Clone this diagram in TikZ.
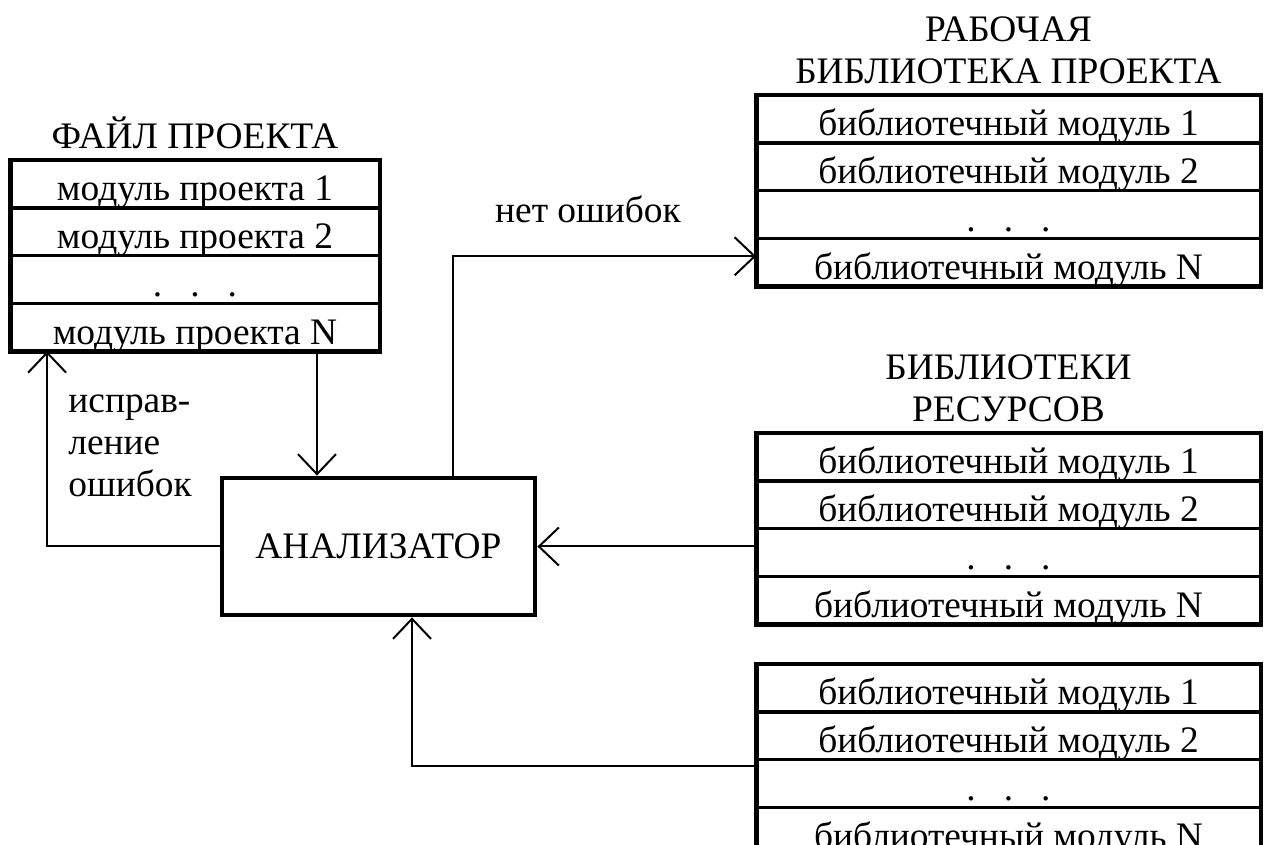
\documentclass[tikz,border=0pt]{standalone}
\usepackage{fontspec}
\setmainfont{Liberation Serif}
\usetikzlibrary{positioning,fit,arrows.meta}
\tikzset{
  txt/.style={font=\fontsize{18.7}{21}\selectfont},
  cell/.style={txt, draw, line width=0.9pt, inner sep=0pt, minimum height=23pt,
    text height=20pt, text depth=3pt},
  filecell/.style={cell, minimum width=184pt},
  libcell/.style={cell, minimum width=251.5pt},
  frame/.style={draw, line width=2.4pt, inner sep=0pt},
  title/.style={txt, align=center, inner sep=0pt},
  arr/.style={line width=1pt, -{Straight Barb[length=10pt,width=19pt,line width=1pt]}}
}
\newcommand{\dotsrow}{.\hspace{14pt}.\hspace{14pt}.}
\begin{document}
\begin{tikzpicture}[x=0.5pt,y=-0.5pt]
\clip (0,0) rectangle (1266,845);
% project file
\node[filecell, anchor=north] (f1) at (195,160) {модуль проекта 1};
\node[filecell, below=0pt of f1] (f2) {модуль проекта 2};
\node[filecell, below=0pt of f2] (f3) {\dotsrow};
\node[filecell, below=0pt of f3] (f4) {модуль проекта N};
\node[frame, fit=(f1)(f4)] (file) {};
\node[title, above=4pt of file] {ФАЙЛ ПРОЕКТА};
% working library
\node[libcell, anchor=north] (w1) at (1008.5,95) {библиотечный модуль 1};
\node[libcell, below=0pt of w1] (w2) {библиотечный модуль 2};
\node[libcell, below=0pt of w2] (w3) {\dotsrow};
\node[libcell, below=0pt of w3] (w4) {библиотечный модуль N};
\node[frame, fit=(w1)(w4)] (work) {};
\node[title, above=4pt of work] {РАБОЧАЯ\\БИБЛИОТЕКА ПРОЕКТА};
% resource libraries
\node[libcell, anchor=north] (r1) at (1008.5,433) {библиотечный модуль 1};
\node[libcell, below=0pt of r1] (r2) {библиотечный модуль 2};
\node[libcell, below=0pt of r2] (r3) {\dotsrow};
\node[libcell, below=0pt of r3] (r4) {библиотечный модуль N};
\node[frame, fit=(r1)(r4)] (res) {};
\node[title, above=4pt of res] {БИБЛИОТЕКИ\\РЕСУРСОВ};
% third library
\node[libcell, anchor=north] (b1) at (1008.5,664) {библиотечный модуль 1};
\node[libcell, below=0pt of b1] (b2) {библиотечный модуль 2};
\node[libcell, below=0pt of b2] (b3) {\dotsrow};
\node[libcell, below=0pt of b3] (b4) {библиотечный модуль N};
\node[frame, fit=(b1)(b4)] (lib) {};
% analyzer
\node[frame, txt, minimum width=156.5pt, minimum height=68.5pt] (an) at (378.5,546.5) {АНАЛИЗАТОР};
\node[txt, anchor=base] (ok) at (588,223) {нет ошибок};
\node[txt, align=left, anchor=north west, inner sep=0pt] (fix) at (68,394) {исправ-\\ление\\ошибок};
% connectors
\draw[arr] ([xshift=61pt]f4.south) -- ([xshift=61pt]f4.south |- an.north);
\draw[arr] (an.west) -| ([xshift=18.5pt]f4.south west);
\draw[arr] ([xshift=37pt]an.north) |- ([yshift=3pt]w4.west);
\draw[arr] (r3.west |- an.east) -- (an.east);
\draw[arr] ([yshift=8.5pt]b3.west) -| ([xshift=16.75pt]an.south);
\end{tikzpicture}
\end{document}
